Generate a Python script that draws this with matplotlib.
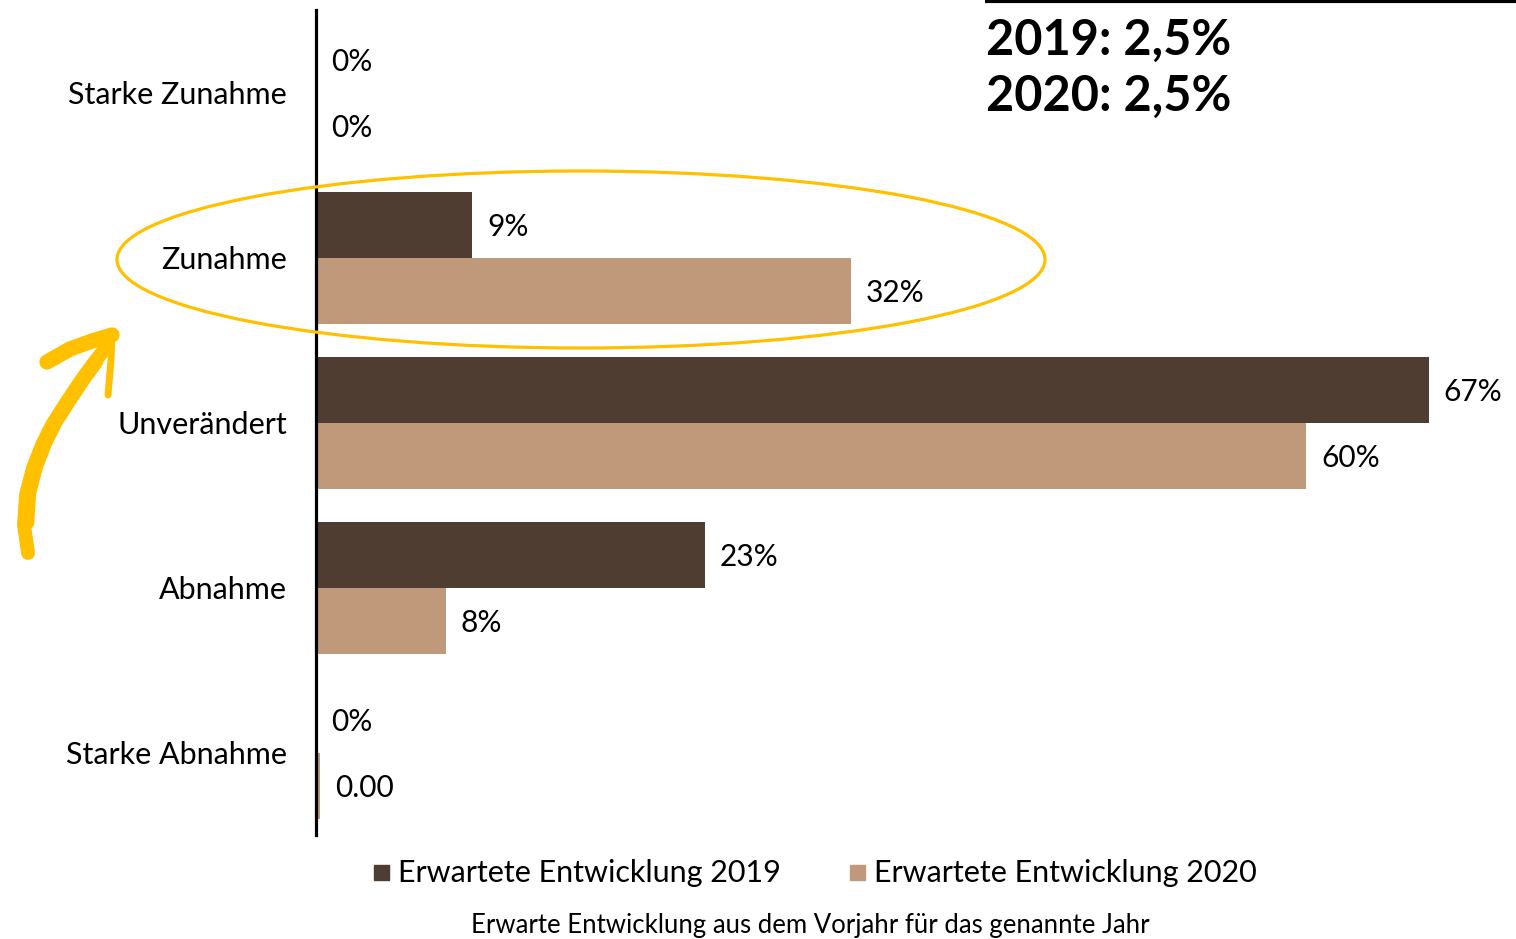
import matplotlib
matplotlib.use("Agg")
import matplotlib.pyplot as plt
from matplotlib.patches import Ellipse, Rectangle

plt.rcParams['font.family'] = ['Lato', 'DejaVu Sans']

categories = ["Starke Zunahme", "Zunahme", "Unverändert", "Abnahme", "Starke Abnahme"]
series_names = ["Erwartete Entwicklung 2019", "Erwartete Entwicklung 2020"]
values_2019 = [0.0, 9.4, 67.0, 23.4, 0.0]
values_2020 = [0.0, 32.2, 59.6, 7.8, 0.25]
labels_2019 = ["0%", "9%", "67%", "23%", "0%"]
labels_2020 = ["0%", "32%", "60%", "8%", "0.00"]
info_lines = ["2019: 2,5%", "2020: 2,5%"]
caption = "Erwarte Entwicklung aus dem Vorjahr für das genannte Jahr"

c2019 = "#4F3D31"
c2020 = "#C0987A"
gold = "#FFC000"

W, H = 1516, 939
fig = plt.figure(figsize=(W / 100, H / 100), dpi=100)

x0, x1, ytop, ybot = 316, 1516, 10, 835
ax = fig.add_axes([x0 / W, 1 - ybot / H, (x1 - x0) / W, (ybot - ytop) / H])
px_per_pct = 16.61
ax.set_xlim(0, (x1 - x0) / px_per_pct)
ax.set_ylim(len(categories) - 0.5, -0.5)

ypos = list(range(len(categories)))
bh = 0.4
ax.barh([y - bh / 2 for y in ypos], values_2019, height=bh, color=c2019, zorder=2)
ax.barh([y + bh / 2 for y in ypos], values_2020, height=bh, color=c2020, zorder=2)

for y, v, lab in zip(ypos, values_2019, labels_2019):
    ax.annotate(lab, (v, y - bh / 2), xytext=(15, -2.5), textcoords='offset pixels',
                va='center', ha='left', fontsize=21.5, color='black')
for y, v, lab in zip(ypos, values_2020, labels_2020):
    ax.annotate(lab, (v, y + bh / 2), xytext=(15, -2.5), textcoords='offset pixels',
                va='center', ha='left', fontsize=21.5, color='black')

for s in ['top', 'right', 'bottom']:
    ax.spines[s].set_visible(False)
ax.spines['left'].set_linewidth(2.3)
ax.spines['left'].set_color('black')
ax.set_xticks([])
ax.set_yticks(ypos)
ax.set_yticklabels(categories, fontsize=22)
ax.tick_params(axis='y', length=0, pad=21)
ax.patch.set_alpha(0)

ov = fig.add_axes([0, 0, 1, 1], zorder=5)
ov.set_xlim(0, W)
ov.set_ylim(H, 0)
ov.axis('off')
ov.patch.set_alpha(0)

ov.add_patch(Ellipse((581, 259.5), 928, 177, fill=False, edgecolor=gold, lw=2.3))

# brush-like arrow, drawn as overlapping strokes
shaft_x = [28, 24, 26, 33, 42, 52, 66, 80, 93, 104]
shaft_y = [553, 525, 495, 468, 445, 425, 403, 382, 364, 350]
ov.plot(shaft_x, shaft_y, color=gold, lw=10, solid_capstyle='round', solid_joinstyle='round')
ov.plot([x + 4 for x in shaft_x[1:-1]], [y - 2 for y in shaft_y[1:-1]], color=gold, lw=9,
        solid_capstyle='round', solid_joinstyle='round')
ov.plot([47, 70, 92, 112], [362, 349, 341, 335], color=gold, lw=11, solid_capstyle='round')
ov.plot([112, 111, 108], [336, 360, 395], color=gold, lw=5, solid_capstyle='round')

# top right info
ov.plot([985, 1516], [1, 1], color='black', lw=3, solid_capstyle='butt')
ov.text(986, 55, info_lines[0], fontsize=35, fontweight='bold', va='baseline', ha='left')
ov.text(986, 111, info_lines[1], fontsize=35, fontweight='bold', va='baseline', ha='left')

# legend
ov.add_patch(Rectangle((374, 865), 15, 15, color=c2019))
ov.text(398, 873, series_names[0], fontsize=22, va='center', ha='left')
ov.add_patch(Rectangle((850, 865), 15, 15, color=c2020))
ov.text(874, 873, series_names[1], fontsize=22, va='center', ha='left')

ov.text(810, 925, caption, fontsize=18.5, va='center', ha='center')

fig.savefig("out.png", dpi=100)
